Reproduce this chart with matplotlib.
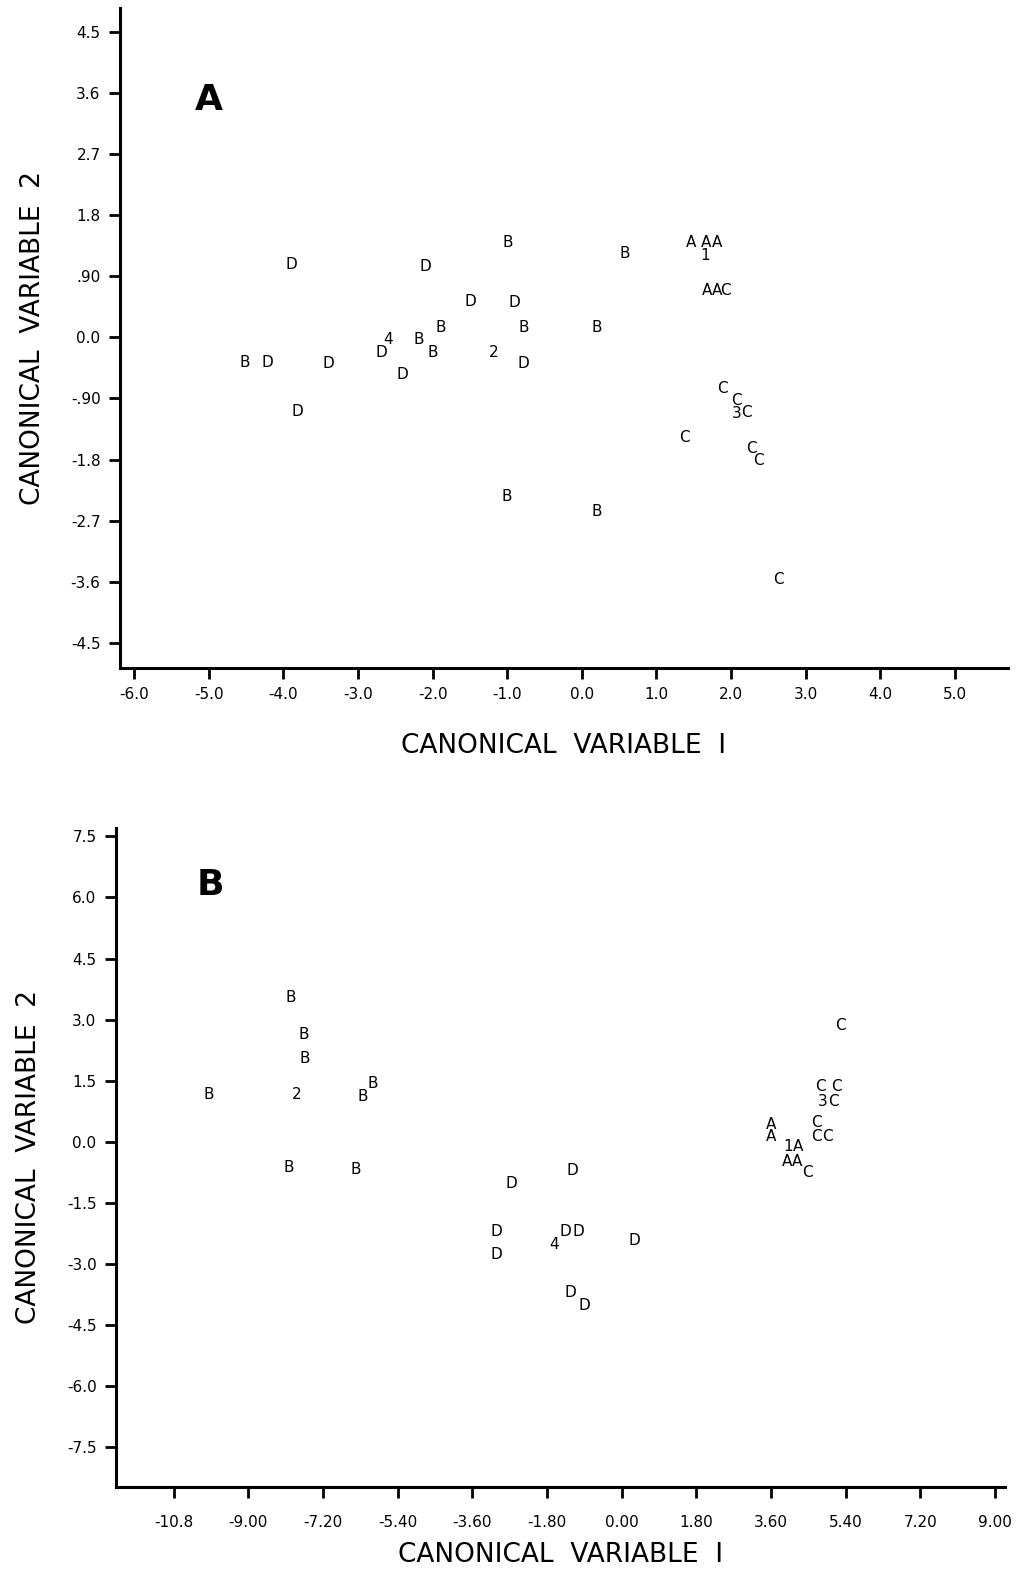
import matplotlib.pyplot as plt

# panel A: canonical scores (symbol = group)
a_lab = ['B', 'B', 'D', 'D', 'D', 'D', 'B', 'B', 'B', '4', 'D', 'B', 'B', '2',
         'D', 'B', 'D', 'D', 'D', 'D', 'B', 'B',
         'A', 'A', 'A', '1', 'A', 'A', 'C', 'C', 'C', '3', 'C', 'C', 'C', 'C', 'C']
a_x = [-0.99, 0.57, -3.89, -2.10, -1.49, -0.90, -1.89, -0.78, 0.20, -2.59, -2.69,
       -2.18, -2.00, -1.18, -0.78, -4.52, -4.21, -3.40, -2.40, -3.81, -1.01, 0.20,
       1.47, 1.66, 1.81, 1.66, 1.68, 1.81, 1.93, 1.88, 2.08, 2.08, 2.21, 1.38,
       2.28, 2.37, 2.64]
a_y = [1.40, 1.24, 1.07, 1.04, 0.53, 0.51, 0.15, 0.15, 0.15, -0.03, -0.22,
       -0.03, -0.22, -0.22, -0.38, -0.37, -0.37, -0.38, -0.54, -1.09, -2.34, -2.56,
       1.40, 1.40, 1.40, 1.21, 0.69, 0.69, 0.69, -0.75, -0.93, -1.12, -1.10, -1.47,
       -1.63, -1.81, -3.57]

# panel B
b_lab = ['B', 'B', 'B', 'B', '2', 'B', 'B', 'B', 'B',
         'D', 'D', 'D', 'D', '4', 'D', 'D', 'D', 'D', 'D',
         'C', 'C', 'C', '3', 'C', 'A', 'A', 'C', 'C', 'C', '1', 'A', 'A', 'A', 'C']
b_x = [-7.98, -7.66, -7.64, -9.95, -7.83, -6.00, -6.24, -8.02, -6.41,
       -2.65, -1.20, -3.01, -3.01, -1.64, -1.37, -1.04, -1.25, -0.89, 0.31,
       5.28, 4.80, 5.18, 4.84, 5.11, 3.61, 3.61, 4.70, 4.70, 4.96, 4.00, 4.24,
       3.98, 4.22, 4.48]
b_y = [3.54, 2.63, 2.04, 1.15, 1.15, 1.43, 1.11, -0.64, -0.69,
       -1.03, -0.71, -2.21, -2.78, -2.53, -2.21, -2.21, -3.71, -4.03, -2.43,
       2.85, 1.35, 1.35, 0.98, 0.98, 0.42, 0.12, 0.47, 0.12, 0.12, -0.12, -0.12,
       -0.49, -0.49, -0.76]

a_xticks = [-6.0, -5.0, -4.0, -3.0, -2.0, -1.0, 0.0, 1.0, 2.0, 3.0, 4.0, 5.0]
a_xticklabels = ['-6.0', '-5.0', '-4.0', '-3.0', '-2.0', '-1.0', '0.0', '1.0',
                 '2.0', '3.0', '4.0', '5.0']
a_yticks = [4.5, 3.6, 2.7, 1.8, 0.9, 0.0, -0.9, -1.8, -2.7, -3.6, -4.5]
a_yticklabels = ['4.5', '3.6', '2.7', '1.8', '.90', '0.0', '-.90', '-1.8',
                 '-2.7', '-3.6', '-4.5']

b_xticks = [-10.8, -9.0, -7.2, -5.4, -3.6, -1.8, 0.0, 1.8, 3.6, 5.4, 7.2, 9.0]
b_xticklabels = ['-10.8', '-9.00', '-7.20', '-5.40', '-3.60', '-1.80', '0.00',
                 '1.80', '3.60', '5.40', '7.20', '9.00']
b_yticks = [7.5, 6.0, 4.5, 3.0, 1.5, 0.0, -1.5, -3.0, -4.5, -6.0, -7.5]
b_yticklabels = ['7.5', '6.0', '4.5', '3.0', '1.5', '0.0', '-1.5', '-3.0',
                 '-4.5', '-6.0', '-7.5']

plt.rcParams['font.family'] = ['DejaVu Sans']

fig = plt.figure(figsize=(10.31, 15.73), dpi=100)
ax1 = fig.add_axes([0.1164, 0.5753, 0.861, 0.4196])
ax2 = fig.add_axes([0.1125, 0.0547, 0.862, 0.419])


def style(ax, xt, xtl, yt, ytl, xpad):
    for s in ['top', 'right']:
        ax.spines[s].set_visible(False)
    for s in ['left', 'bottom']:
        ax.spines[s].set_linewidth(2.2)
    ax.set_xticks(xt)
    ax.set_xticklabels(xtl)
    ax.set_yticks(yt)
    ax.set_yticklabels(ytl)
    ax.tick_params(direction='out', length=8, width=2, labelsize=11, pad=6)
    ax.set_xlabel('CANONICAL  VARIABLE  I', fontsize=19, labelpad=xpad)
    ax.set_ylabel('CANONICAL  VARIABLE  2', fontsize=19, labelpad=18)


for lab, x, y in zip(a_lab, a_x, a_y):
    ax1.text(x, y, lab, ha='center', va='center', fontsize=11)
ax1.set_xlim(-6.19, 5.71)
ax1.set_ylim(-4.87, 4.85)
style(ax1, a_xticks, a_xticklabels, a_yticks, a_yticklabels, 22)
ax1.text(0.10, 0.86, 'A', transform=ax1.transAxes, fontsize=26,
         fontweight='bold', ha='center', va='center')

for lab, x, y in zip(b_lab, b_x, b_y):
    ax2.text(x, y, lab, ha='center', va='center', fontsize=11)
ax2.set_xlim(-12.19, 9.23)
ax2.set_ylim(-8.48, 7.71)
style(ax2, b_xticks, b_xticklabels, b_yticks, b_yticklabels, 9)
ax2.tick_params(axis='x', pad=12)
ax2.text(0.106, 0.913, 'B', transform=ax2.transAxes, fontsize=26,
         fontweight='bold', ha='center', va='center')

fig.savefig('out.png', dpi=100)
